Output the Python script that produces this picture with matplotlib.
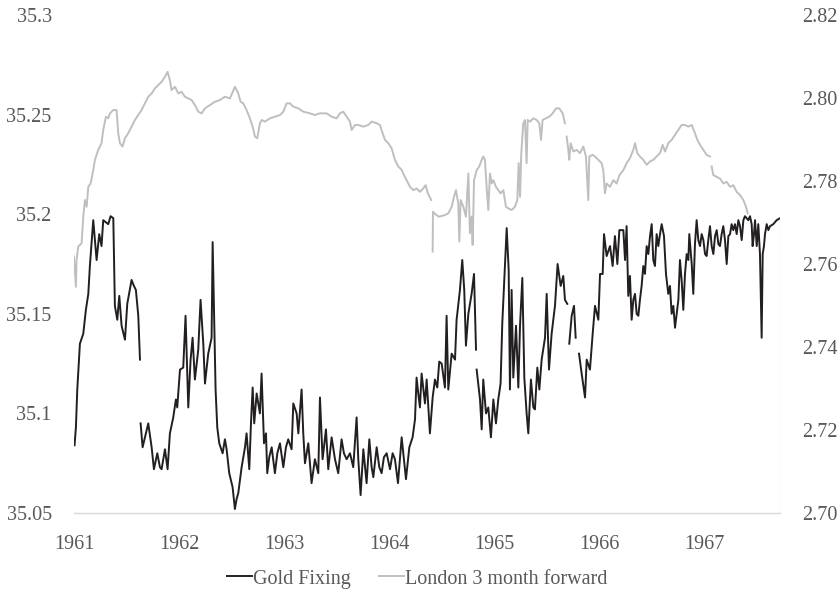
import numpy as np
import matplotlib
matplotlib.use("Agg")
import matplotlib.pyplot as plt
from matplotlib.ticker import FuncFormatter

nan = np.nan

# London gold fixing, USD per ounce (decimal year / price)
gold_year = [
    1961.006, 1961.019, 1961.032, 1961.057, 1961.089, 1961.114, 1961.137, 1961.152, 1961.184, 1961.216,
    1961.241, 1961.263, 1961.279, 1961.327, 1961.349, 1961.375, 1961.390, 1961.413, 1961.432, 1961.454,
    1961.486, 1961.508, 1961.549, 1961.571, 1961.590, 1961.613, 1961.629, 1961.632, 1961.635, 1961.654,
    1961.686, 1961.708, 1961.740, 1961.762, 1961.794, 1961.819, 1961.835, 1961.867, 1961.892, 1961.914,
    1961.946, 1961.971, 1961.984, 1962.010, 1962.041, 1962.063, 1962.089, 1962.111, 1962.130, 1962.152,
    1962.184, 1962.206, 1962.232, 1962.248, 1962.279, 1962.311, 1962.321, 1962.333, 1962.349, 1962.365,
    1962.384, 1962.416, 1962.438, 1962.454, 1962.479, 1962.511, 1962.533, 1962.549, 1962.565, 1962.597,
    1962.629, 1962.644, 1962.670, 1962.686, 1962.702, 1962.717, 1962.740, 1962.771, 1962.787, 1962.810,
    1962.829, 1962.841, 1962.860, 1962.883, 1962.914, 1962.937, 1962.962, 1962.994, 1963.019, 1963.041,
    1963.073, 1963.089, 1963.121, 1963.137, 1963.168, 1963.184, 1963.200, 1963.232, 1963.263, 1963.295,
    1963.327, 1963.343, 1963.368, 1963.400, 1963.422, 1963.454, 1963.486, 1963.517, 1963.549, 1963.571,
    1963.597, 1963.629, 1963.660, 1963.692, 1963.708, 1963.730, 1963.756, 1963.787, 1963.813, 1963.835,
    1963.851, 1963.883, 1963.908, 1963.930, 1963.952, 1963.978, 1964.010, 1964.035, 1964.057, 1964.086,
    1964.121, 1964.143, 1964.162, 1964.194, 1964.225, 1964.248, 1964.263, 1964.279, 1964.295, 1964.311,
    1964.343, 1964.359, 1964.390, 1964.416, 1964.438, 1964.460, 1964.479, 1964.502, 1964.533, 1964.549,
    1964.565, 1964.597, 1964.629, 1964.644, 1964.676, 1964.698, 1964.717, 1964.733, 1964.756, 1964.787,
    1964.810, 1964.829, 1964.832, 1964.835, 1964.867, 1964.883, 1964.898, 1964.924, 1964.946, 1964.971,
    1964.994, 1965.019, 1965.041, 1965.063, 1965.079, 1965.098, 1965.121, 1965.140, 1965.152, 1965.168,
    1965.184, 1965.210, 1965.232, 1965.248, 1965.270, 1965.289, 1965.311, 1965.327, 1965.352, 1965.375,
    1965.390, 1965.413, 1965.432, 1965.454, 1965.486, 1965.502, 1965.524, 1965.549, 1965.581, 1965.606,
    1965.635, 1965.660, 1965.676, 1965.698, 1965.708, 1965.717, 1965.740, 1965.762, 1965.778, 1965.794,
    1965.810, 1965.835, 1965.867, 1965.883, 1965.914, 1965.940, 1965.962, 1965.994, 1966.010, 1966.035,
    1966.048, 1966.073, 1966.105, 1966.130, 1966.152, 1966.175, 1966.194, 1966.232, 1966.248, 1966.263,
    1966.279, 1966.295, 1966.311, 1966.327, 1966.343, 1966.359, 1966.375, 1966.390, 1966.406, 1966.422,
    1966.438, 1966.454, 1966.470, 1966.486, 1966.502, 1966.517, 1966.533, 1966.549, 1966.565, 1966.581,
    1966.597, 1966.619, 1966.638, 1966.660, 1966.676, 1966.692, 1966.708, 1966.724, 1966.740, 1966.756,
    1966.771, 1966.787, 1966.803, 1966.819, 1966.835, 1966.851, 1966.860, 1966.883, 1966.898, 1966.914,
    1966.930, 1966.946, 1966.962, 1966.978, 1966.994, 1967.010, 1967.025, 1967.041, 1967.057, 1967.073,
    1967.089, 1967.105, 1967.121, 1967.137, 1967.152, 1967.168, 1967.184, 1967.200, 1967.216, 1967.232,
    1967.248, 1967.263, 1967.279, 1967.295, 1967.311, 1967.327, 1967.343, 1967.359, 1967.375, 1967.390,
    1967.406, 1967.422, 1967.438, 1967.454, 1967.463, 1967.476, 1967.486, 1967.502, 1967.517, 1967.533,
    1967.549, 1967.559, 1967.571, 1967.581, 1967.597, 1967.613, 1967.629, 1967.660, 1967.692, 1967.724,
]
gold_fixing = [
    35.084, 35.093, 35.112, 35.135, 35.140, 35.152, 35.160, 35.174, 35.197, 35.177,
    35.190, 35.184, 35.197, 35.195, 35.199, 35.198, 35.154, 35.147, 35.159, 35.144,
    35.137, 35.155, 35.167, 35.164, 35.162, 35.149, 35.127, nan, 35.095, 35.083,
    35.090, 35.095, 35.083, 35.072, 35.080, 35.073, 35.072, 35.082, 35.072, 35.090,
    35.098, 35.107, 35.103, 35.122, 35.123, 35.149, 35.103, 35.127, 35.138, 35.117,
    35.132, 35.157, 35.135, 35.115, 35.130, 35.138, 35.186, 35.154, 35.112, 35.093,
    35.085, 35.080, 35.087, 35.082, 35.070, 35.063, 35.052, 35.057, 35.060, 35.073,
    35.083, 35.090, 35.072, 35.095, 35.113, 35.095, 35.110, 35.100, 35.120, 35.085,
    35.090, 35.070, 35.078, 35.083, 35.070, 35.080, 35.085, 35.073, 35.083, 35.087,
    35.082, 35.105, 35.100, 35.090, 35.112, 35.090, 35.075, 35.085, 35.065, 35.077,
    35.070, 35.108, 35.077, 35.092, 35.072, 35.088, 35.077, 35.070, 35.087, 35.080,
    35.077, 35.080, 35.073, 35.098, 35.077, 35.059, 35.082, 35.065, 35.087, 35.073,
    35.068, 35.083, 35.073, 35.070, 35.078, 35.080, 35.072, 35.080, 35.077, 35.065,
    35.088, 35.077, 35.067, 35.083, 35.088, 35.097, 35.118, 35.110, 35.103, 35.120,
    35.105, 35.117, 35.090, 35.108, 35.117, 35.113, 35.126, 35.125, 35.113, 35.149,
    35.112, 35.130, 35.127, 35.147, 35.162, 35.177, 35.162, 35.134, 35.150, 35.160,
    35.170, 35.132, nan, 35.122, 35.107, 35.092, 35.117, 35.100, 35.103, 35.088,
    35.107, 35.095, 35.107, 35.115, 35.145, 35.167, 35.193, 35.172, 35.112, 35.162,
    35.118, 35.144, 35.113, 35.144, 35.168, 35.118, 35.100, 35.090, 35.117, 35.103,
    35.102, 35.123, 35.112, 35.127, 35.138, 35.160, 35.122, 35.140, 35.154, 35.175,
    35.164, 35.169, 35.157, 35.155, nan, 35.135, 35.149, 35.154, 35.138, nan,
    35.130, 35.120, 35.108, 35.127, 35.122, 35.140, 35.154, 35.147, 35.170, 35.170,
    35.190, 35.179, 35.184, 35.174, 35.189, 35.175, 35.192, 35.192, 35.177, 35.194,
    35.159, 35.169, 35.147, 35.157, 35.160, 35.150, 35.149, 35.157, 35.164, 35.174,
    35.170, 35.184, 35.180, 35.189, 35.195, 35.177, 35.174, 35.190, 35.184, 35.190,
    35.195, 35.189, 35.170, 35.160, 35.164, 35.150, 35.154, 35.143, 35.150, 35.157,
    35.177, 35.167, 35.152, 35.170, 35.180, 35.177, 35.190, 35.175, 35.160, 35.185,
    35.197, 35.187, 35.184, 35.190, 35.187, 35.180, 35.179, 35.187, 35.194, 35.184,
    35.180, 35.189, 35.192, 35.185, 35.184, 35.190, 35.194, 35.187, 35.175, 35.189,
    35.190, 35.195, 35.192, 35.195, 35.190, 35.197, 35.194, 35.187, 35.197, 35.199,
    35.198, 35.197, 35.199, 35.195, 35.184, 35.190, 35.197, 35.184, 35.195, 35.180,
    35.138, 35.180, 35.184, 35.190, 35.195, 35.192, 35.194, 35.195, 35.197, 35.198,
]

# London 3 month forward, USD per pound sterling
fwd_year = [
    1961.000, 1961.019, 1961.025, 1961.041, 1961.073, 1961.089, 1961.105, 1961.121, 1961.137, 1961.159,
    1961.184, 1961.200, 1961.232, 1961.263, 1961.279, 1961.305, 1961.327, 1961.343, 1961.375, 1961.406,
    1961.422, 1961.438, 1961.463, 1961.486, 1961.517, 1961.549, 1961.581, 1961.613, 1961.644, 1961.676,
    1961.708, 1961.740, 1961.771, 1961.803, 1961.835, 1961.867, 1961.892, 1961.914, 1961.929, 1961.962,
    1961.994, 1962.025, 1962.057, 1962.089, 1962.121, 1962.152, 1962.184, 1962.216, 1962.248, 1962.295,
    1962.343, 1962.390, 1962.438, 1962.486, 1962.533, 1962.565, 1962.587, 1962.613, 1962.644, 1962.676,
    1962.702, 1962.724, 1962.746, 1962.771, 1962.787, 1962.819, 1962.867, 1962.914, 1962.962, 1962.994,
    1963.025, 1963.057, 1963.089, 1963.137, 1963.184, 1963.248, 1963.295, 1963.343, 1963.406, 1963.454,
    1963.502, 1963.533, 1963.565, 1963.597, 1963.629, 1963.644, 1963.676, 1963.708, 1963.756, 1963.803,
    1963.835, 1963.883, 1963.914, 1963.940, 1963.962, 1963.994, 1964.025, 1964.057, 1964.089, 1964.121,
    1964.143, 1964.168, 1964.200, 1964.232, 1964.263, 1964.295, 1964.327, 1964.349, 1964.371, 1964.402,
    1964.410, 1964.416, 1964.419, 1964.451, 1964.476, 1964.533, 1964.565, 1964.597, 1964.619, 1964.638,
    1964.660, 1964.670, 1964.683, 1964.708, 1964.733, 1964.756, 1964.771, 1964.787, 1964.797, 1964.810,
    1964.835, 1964.860, 1964.883, 1964.898, 1964.914, 1964.930, 1964.946, 1964.962, 1964.978, 1964.994,
    1965.019, 1965.041, 1965.063, 1965.089, 1965.114, 1965.137, 1965.168, 1965.200, 1965.222, 1965.235,
    1965.248, 1965.260, 1965.279, 1965.295, 1965.311, 1965.321, 1965.343, 1965.375, 1965.406, 1965.432,
    1965.448, 1965.463, 1965.495, 1965.527, 1965.559, 1965.590, 1965.622, 1965.654, 1965.676, 1965.684,
    1965.692, 1965.708, 1965.717, 1965.730, 1965.756, 1965.787, 1965.819, 1965.851, 1965.876, 1965.898,
    1965.908, 1965.940, 1965.962, 1965.994, 1966.025, 1966.041, 1966.057, 1966.073, 1966.105, 1966.137,
    1966.168, 1966.194, 1966.232, 1966.263, 1966.295, 1966.327, 1966.343, 1966.365, 1966.390, 1966.422,
    1966.454, 1966.486, 1966.517, 1966.549, 1966.581, 1966.606, 1966.629, 1966.660, 1966.692, 1966.724,
    1966.756, 1966.787, 1966.819, 1966.851, 1966.883, 1966.914, 1966.937, 1966.962, 1966.994, 1967.025,
    1967.057, 1967.065, 1967.073, 1967.089, 1967.121, 1967.152, 1967.184, 1967.216, 1967.248, 1967.279,
    1967.311, 1967.343, 1967.375, 1967.400, 1967.416,
]
fwd_rate = [
    2.7618, 2.7545, 2.7610, 2.7642, 2.7650, 2.7714, 2.7754, 2.7738, 2.7786, 2.7794,
    2.7826, 2.7851, 2.7875, 2.7891, 2.7923, 2.7955, 2.7951, 2.7963, 2.7971, 2.7971,
    2.7915, 2.7891, 2.7883, 2.7903, 2.7915, 2.7931, 2.7947, 2.7959, 2.7971, 2.7987,
    2.8003, 2.8011, 2.8023, 2.8031, 2.8039, 2.8051, 2.8063, 2.8043, 2.8019, 2.8027,
    2.8011, 2.8015, 2.8003, 2.7999, 2.7995, 2.7983, 2.7967, 2.7963, 2.7975, 2.7983,
    2.7991, 2.7995, 2.8003, 2.7999, 2.8027, 2.8011, 2.7991, 2.7987, 2.7971, 2.7951,
    2.7931, 2.7907, 2.7903, 2.7939, 2.7947, 2.7943, 2.7951, 2.7955, 2.7959, 2.7967,
    2.7987, 2.7987, 2.7979, 2.7975, 2.7967, 2.7963, 2.7959, 2.7963, 2.7963, 2.7955,
    2.7951, 2.7963, 2.7967, 2.7955, 2.7943, 2.7923, 2.7935, 2.7935, 2.7931, 2.7935,
    2.7943, 2.7939, 2.7935, 2.7915, 2.7899, 2.7891, 2.7879, 2.7851, 2.7835, 2.7827,
    2.7814, 2.7802, 2.7786, 2.7778, 2.7782, 2.7774, 2.7782, 2.7790, 2.7770, 2.7754,
    nan, 2.7630, 2.7726, 2.7718, 2.7714, 2.7718, 2.7722, 2.7738, 2.7762, 2.7778,
    2.7746, 2.7654, 2.7754, 2.7738, 2.7714, 2.7818, 2.7674, 2.7714, 2.7646, 2.7802,
    2.7826, 2.7835, 2.7851, 2.7859, 2.7851, 2.7786, 2.7730, 2.7818, 2.7794, 2.7802,
    2.7786, 2.7778, 2.7770, 2.7778, 2.7738, 2.7734, 2.7730, 2.7738, 2.7754, 2.7843,
    2.7762, 2.7867, 2.7939, 2.7947, 2.7843, 2.7947, 2.7943, 2.7951, 2.7947, 2.7939,
    2.7899, 2.7947, 2.7951, 2.7955, 2.7963, 2.7975, 2.7975, 2.7963, 2.7939, nan,
    2.7907, 2.7875, 2.7851, 2.7891, 2.7871, 2.7875, 2.7867, 2.7883, 2.7859, 2.7754,
    2.7859, 2.7863, 2.7859, 2.7851, 2.7843, 2.7826, 2.7770, 2.7794, 2.7786, 2.7802,
    2.7794, 2.7814, 2.7826, 2.7843, 2.7855, 2.7875, 2.7891, 2.7867, 2.7859, 2.7851,
    2.7839, 2.7847, 2.7851, 2.7859, 2.7867, 2.7887, 2.7871, 2.7891, 2.7899, 2.7911,
    2.7923, 2.7935, 2.7935, 2.7931, 2.7935, 2.7915, 2.7899, 2.7887, 2.7875, 2.7863,
    2.7859, nan, 2.7835, 2.7814, 2.7810, 2.7806, 2.7794, 2.7798, 2.7786, 2.7790,
    2.7774, 2.7766, 2.7754, 2.7738, 2.7722,
]

year_ticks = [1961, 1962, 1963, 1964, 1965, 1966, 1967]
gold_ticks = [35.05, 35.1, 35.15, 35.2, 35.25, 35.3]
fwd_ticks = [2.70, 2.72, 2.74, 2.76, 2.78, 2.80, 2.82]

plt.rcParams['font.family'] = ['Liberation Serif', 'DejaVu Serif']
text_color = '#595959'
fs = 14.5

fig = plt.figure(figsize=(8.4, 5.92), dpi=100)
ax = fig.add_axes([0.088, 0.1334, 0.8406, 0.8413])
ax2 = ax.twinx()

ax2.plot(fwd_year, fwd_rate, color='#bfbfbf', lw=1.4, label='London 3 month forward')
ax.plot(gold_year, gold_fixing, color='#231f20', lw=1.4, label='Gold Fixing')
ax.set_zorder(ax2.get_zorder() + 1)
ax.patch.set_visible(False)

# thin closing line down from the last fixing
ax.vlines(gold_year[-1], gold_ticks[0], gold_fixing[-1], color='#a6a6a6', lw=0.8)

ax.set_xlim(year_ticks[0], gold_year[-1])
ax.set_ylim(gold_ticks[0], gold_ticks[-1])
ax2.set_ylim(fwd_ticks[0], fwd_ticks[-1])

ax.set_xticks(year_ticks)
ax.set_yticks(gold_ticks)
ax2.set_yticks(fwd_ticks)
ax.yaxis.set_major_formatter(FuncFormatter(lambda v, p: '%g' % v))
ax2.yaxis.set_major_formatter(FuncFormatter(lambda v, p: '%.2f' % v))

for a in (ax, ax2):
    for s in a.spines.values():
        s.set_visible(False)
ax.spines['bottom'].set_visible(True)
ax.spines['bottom'].set_color('#d9d9d9')
ax.spines['bottom'].set_linewidth(1.0)

ax.tick_params(axis='x', length=0, pad=15.5, labelsize=fs, labelcolor=text_color)
ax.tick_params(axis='y', length=0, pad=16, labelsize=fs, labelcolor=text_color)
ax2.tick_params(axis='y', length=0, pad=16, labelsize=fs, labelcolor=text_color)

h1, l1 = ax.get_legend_handles_labels()
h2, l2 = ax2.get_legend_handles_labels()
leg = fig.legend(h1 + h2, l1 + l2, loc='center', bbox_to_anchor=(0.497, 0.022),
                 ncol=2, frameon=False, fontsize=fs, handlelength=1.25,
                 handletextpad=0.05, columnspacing=1.4)
for t in leg.get_texts():
    t.set_color(text_color)

fig.savefig('out.png', dpi=100)
